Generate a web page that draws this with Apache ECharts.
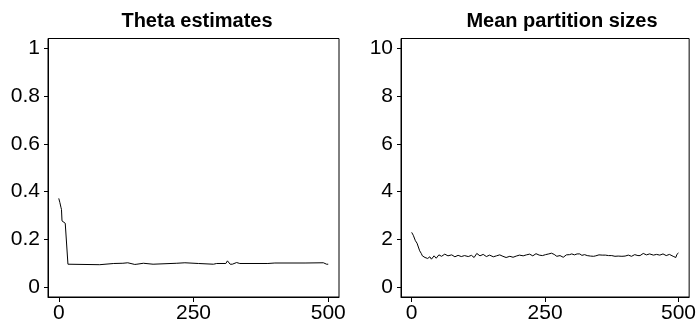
<!DOCTYPE html>
<html>
<head>
<meta charset="utf-8">
<script src="https://cdn.jsdelivr.net/npm/echarts@6/dist/echarts.min.js"></script>
<style>
  html, body { margin: 0; padding: 0; background: #fff; }
  #chart { width: 699px; height: 324px; }
</style>
</head>
<body>
<div id="chart"></div>
<script>
// ===== data =====
// theta estimates: [iteration, value] (step-like trace)
const thetaIter = [0, 2, 4, 5, 6, 8, 9, 12, 17, 76, 78, 102, 104, 119, 121, 128, 131, 141, 145, 148, 157, 160, 175, 178, 219, 222, 234, 237, 259, 262, 287, 293, 310, 313, 316, 318, 322, 325, 330, 333, 336, 388, 401, 457, 460, 491, 497, 500];
const thetaVals = [0.372, 0.355, 0.335, 0.326, 0.278, 0.277, 0.272, 0.268, 0.097, 0.095, 0.100, 0.100, 0.101, 0.101, 0.103, 0.103, 0.096, 0.096, 0.097, 0.101, 0.101, 0.097, 0.097, 0.101, 0.101, 0.103, 0.103, 0.100, 0.100, 0.097, 0.097, 0.100, 0.100, 0.111, 0.110, 0.097, 0.097, 0.104, 0.104, 0.097, 0.100, 0.100, 0.102, 0.102, 0.103, 0.103, 0.097, 0.097];

// mean partition sizes: [iteration, value]
const sizeIter = [0, 2, 3, 5, 7, 10, 12, 15, 18, 20, 25, 28, 30, 34, 37, 40, 42, 44, 46, 48, 51, 53, 56, 59, 62, 65, 68, 71, 75, 78, 81, 84, 87, 90, 93, 96, 99, 102, 106, 109, 112, 115, 117, 120, 122, 125, 128, 131, 134, 137, 140, 143, 146, 149, 153, 156, 159, 162, 165, 168, 171, 174, 177, 180, 184, 187, 190, 193, 196, 199, 202, 205, 209, 212, 215, 218, 221, 224, 227, 230, 233, 236, 239, 242, 245, 248, 251, 254, 257, 259, 262, 264, 267, 269, 272, 275, 278, 281, 284, 287, 290, 293, 296, 298, 300, 302, 305, 307, 310, 312, 315, 317, 319, 321, 324, 326, 329, 332, 335, 338, 341, 345, 348, 351, 354, 357, 360, 363, 366, 369, 372, 375, 378, 381, 384, 387, 390, 394, 397, 400, 403, 406, 409, 412, 415, 418, 421, 424, 428, 431, 434, 437, 440, 443, 446, 449, 453, 456, 459, 462, 465, 468, 471, 474, 477, 480, 483, 486, 490, 493, 495, 497, 500];
const sizeVals = [2.30, 2.28, 2.18, 2.16, 1.95, 1.85, 1.78, 1.53, 1.42, 1.32, 1.25, 1.22, 1.21, 1.28, 1.18, 1.25, 1.32, 1.24, 1.22, 1.30, 1.36, 1.28, 1.30, 1.34, 1.39, 1.31, 1.32, 1.38, 1.36, 1.30, 1.28, 1.35, 1.34, 1.30, 1.29, 1.36, 1.33, 1.28, 1.29, 1.36, 1.34, 1.35, 1.25, 1.33, 1.42, 1.36, 1.32, 1.35, 1.38, 1.31, 1.29, 1.34, 1.35, 1.30, 1.28, 1.33, 1.32, 1.37, 1.36, 1.31, 1.30, 1.27, 1.25, 1.29, 1.30, 1.27, 1.26, 1.31, 1.31, 1.36, 1.35, 1.30, 1.32, 1.37, 1.36, 1.33, 1.39, 1.34, 1.32, 1.37, 1.41, 1.36, 1.35, 1.36, 1.33, 1.39, 1.37, 1.35, 1.40, 1.46, 1.43, 1.44, 1.38, 1.32, 1.30, 1.28, 1.33, 1.32, 1.26, 1.30, 1.36, 1.39, 1.37, 1.44, 1.40, 1.38, 1.36, 1.41, 1.40, 1.46, 1.40, 1.39, 1.34, 1.32, 1.37, 1.38, 1.33, 1.35, 1.31, 1.35, 1.30, 1.32, 1.30, 1.36, 1.31, 1.35, 1.32, 1.35, 1.31, 1.33, 1.31, 1.33, 1.32, 1.30, 1.33, 1.31, 1.32, 1.30, 1.33, 1.31, 1.32, 1.35, 1.35, 1.30, 1.32, 1.37, 1.38, 1.33, 1.33, 1.38, 1.42, 1.36, 1.36, 1.40, 1.40, 1.34, 1.35, 1.39, 1.38, 1.33, 1.35, 1.40, 1.40, 1.34, 1.33, 1.37, 1.38, 1.33, 1.30, 1.28, 1.25, 1.38, 1.44];

// tick labels
const xTicks = [0, 250, 500];
const thetaTicks = [0, 0.2, 0.4, 0.6, 0.8, 1];
const sizeTicks = [0, 2, 4, 6, 8, 10];

const FONT = "'Liberation Sans', Arial, sans-serif";

const pairs = (xs, ys) => xs.map((x, i) => [x, ys[i]]);

// common axis styling (box frame comes from grid border)
function xAxisFor(gridIndex) {
  return {
    type: "value", gridIndex, min: -20, max: 520,
    axisLine: { show: true, onZero: false, lineStyle: { color: "#000", width: 1 } },
    axisTick: { show: true, customValues: xTicks, length: 5, lineStyle: { color: "#000" } },
    axisLabel: { customValues: xTicks, color: "#000", fontSize: 21, fontFamily: FONT, margin: 6 },
    splitLine: { show: false },
  };
}

function yAxisFor(gridIndex, min, max, ticks) {
  return {
    type: "value", gridIndex, min, max,
    axisLine: { show: true, onZero: false, lineStyle: { color: "#000", width: 1 } },
    axisTick: { show: true, customValues: ticks, length: 4, lineStyle: { color: "#000" } },
    axisLabel: { customValues: ticks, color: "#000", fontSize: 21, fontFamily: FONT, margin: 8 },
    splitLine: { show: false },
  };
}

const chart = echarts.init(document.getElementById("chart"), null, { renderer: "canvas" });

chart.setOption({
  animation: false,
  backgroundColor: "#fff",
  title: [
    { text: "Theta estimates", left: 192, top: 6, textAlign: "center",
      textStyle: { fontSize: 20, fontWeight: "bold", color: "#000", fontFamily: FONT } },
    { text: "Mean partition sizes", left: 557, top: 6, textAlign: "center",
      textStyle: { fontSize: 20, fontWeight: "bold", color: "#000", fontFamily: FONT } },
  ],
  grid: [
    { left: 48, top: 38.5, width: 291, height: 259.5, show: true, borderColor: "#000", borderWidth: 1 },
    { left: 401, top: 38.5, width: 290, height: 259.5, show: true, borderColor: "#000", borderWidth: 1 },
  ],
  xAxis: [xAxisFor(0), xAxisFor(1)],
  yAxis: [
    yAxisFor(0, -0.04, 1.04, thetaTicks),
    yAxisFor(1, -0.4, 10.4, sizeTicks),
  ],
  series: [
    { type: "line", xAxisIndex: 0, yAxisIndex: 0, data: pairs(thetaIter, thetaVals),
      showSymbol: false, symbol: "none", lineStyle: { color: "#000", width: 1 } },
    { type: "line", xAxisIndex: 1, yAxisIndex: 1, data: pairs(sizeIter, sizeVals),
      showSymbol: false, symbol: "none", lineStyle: { color: "#000", width: 1 } },
  ],
});
</script>
</body>
</html>
